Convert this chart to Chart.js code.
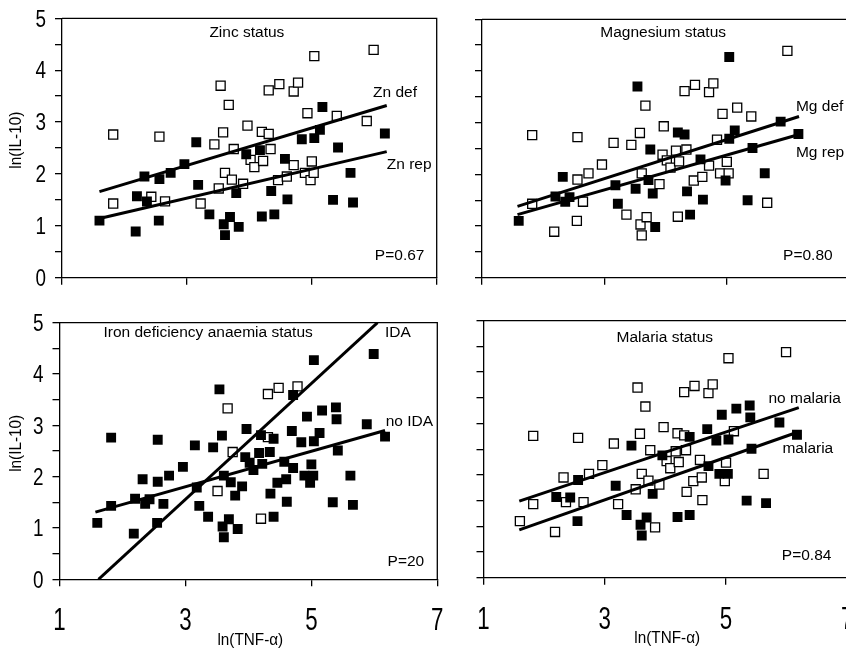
<!DOCTYPE html>
<html>
<head>
<meta charset="utf-8">
<script src="https://cdn.jsdelivr.net/npm/chart.js@4.4.4/dist/chart.umd.min.js"></script>
<style>
  html, body { margin: 0; padding: 0; background: #fff; width: 846px; height: 651px; overflow: hidden; }
  canvas { position: absolute; }
</style>
</head>
<body>
<canvas id="p-zinc"></canvas>
<canvas id="p-mg"></canvas>
<canvas id="p-ida"></canvas>
<canvas id="p-mal"></canvas>
<script>
// ─── Data (same children in every panel) ─────────────────────────────────────

const LN_TNF = [
  1.60, 1.82, 1.82, 2.18, 2.20, 2.32, 2.36, 2.43, 2.55, 2.56,
  2.56, 2.65, 2.74, 2.96, 3.15, 3.18, 3.22, 3.36, 3.44, 3.51,
  3.54, 3.58, 3.59, 3.61, 3.61, 3.67, 3.69, 3.72, 3.75, 3.79,
  3.83, 3.90, 3.95, 3.97, 4.02, 4.08, 4.17, 4.20, 4.20, 4.22,
  4.31, 4.31, 4.34, 4.35, 4.40, 4.46, 4.48, 4.57, 4.60, 4.61,
  4.71, 4.71, 4.78, 4.84, 4.89, 4.93, 4.98, 5.00, 5.03, 5.04,
  5.04, 5.13, 5.17, 5.34, 5.40, 5.42, 5.62, 5.66, 5.88, 5.99,
  6.17, 5.39, 4.69, 4.40
];
const LN_IL10 = [
  1.10, 2.76, 1.43, 0.89, 1.57, 1.95, 1.47, 1.56, 1.10, 1.90,
  2.72, 1.47, 2.02, 2.19, 2.61, 1.79, 1.43, 1.22, 2.57, 1.72,
  3.70, 2.80, 1.03, 0.82, 2.02, 3.33, 1.17, 1.89, 2.48, 1.63,
  0.98, 1.81, 2.38, 2.93, 2.27, 2.13, 2.46, 2.81, 1.18, 2.25,
  2.77, 3.61, 2.48, 1.67, 1.22, 1.88, 3.73, 2.29, 1.95, 1.51,
  3.59, 2.17, 3.76, 2.67, 2.02, 3.17, 1.88, 2.24, 2.02, 4.27,
  2.69, 2.85, 3.29, 1.50, 3.12, 2.51, 2.02, 1.45, 3.02, 4.39,
  2.78, 3.35, 2.89, 2.74
];

// marker per child: 1 = filled square, 0 = open square, null = not plotted
const ZINC_GROUP = [
  1,0,0,1,1,1,1,0,1,1, 0,0,1,1,1,1,0,1,0,0, 0,0,1,1,0,0,1,0,0,1,
  1,0,1,0,0,0,1,0,1,0, 0,0,0,1,1,0,0,1,0,1, 0,0,0,1,0,0,0,0,0,0,
  1,1,1,1,0,1,1,1,0,0, 1,null,null,null
];
const MG_GROUP = [
  1,0,0,0,1,1,1,1,0,0, 0,0,0,0,0,1,1,0,0,1, 1,0,0,0,0,0,0,1,1,1,
  1,0,0,0,0,0,0,1,0,0, 1,0,0,1,1,0,0,1,0,1, 0,0,0,0,0,0,1,0,0,1,
  1,1,0,1,0,1,1,0,1,0, 1,null,null,null
];
const IDA_GROUP = [
  1,1,1,1,1,1,1,1,1,1, 1,1,1,1,1,1,1,1,1,0, 1,1,1,1,1,0,1,1,0,1,
  1,1,1,1,1,1,1,1,0,1, 0,0,1,1,1,1,0,1,1,1, 1,1,0,1,1,1,1,1,1,1,
  1,1,1,1,1,1,1,1,1,1, 1,1,1,1
];
const MALARIA_GROUP = [
  0,0,0,0,1,0,0,1,1,1, 0,0,0,0,0,1,0,1,1,0, 0,0,1,1,0,0,1,0,0,1,
  0,0,1,0,0,0,0,0,1,0, 0,0,0,0,1,0,0,0,0,0, 0,1,0,1,1,1,0,0,1,0,
  1,0,1,1,1,1,0,1,1,0, 1,1,1,1
];

// fitted regression lines: end points
const ZN_FIT_X = [1.60, 6.20];
const ZN_DEF_FIT = [1.66, 3.32];
const ZN_REP_FIT = [1.14, 2.43];
const MG_FIT_X = [1.58, 6.18];
const MG_DEF_FIT = [1.38, 3.12];
const MG_REP_FIT = [1.22, 2.77];
const IDA_FIT_X = [1.62, 6.05];
const IDA_FIT = [0.00, 5.00];
const NO_IDA_FIT_X = [1.57, 6.17];
const NO_IDA_FIT = [1.31, 2.90];
const MAL_FIT_X = [1.59, 6.20];
const NO_MAL_FIT = [1.49, 3.31];
const MAL_FIT = [0.93, 2.84];

const X_TICKS = [1, 3, 5, 7];
const Y_TICKS = [0, 1, 2, 3, 4, 5];

// ─── Helpers ────────────────────────────────────────────────────────────────

const FONT = '"Liberation Sans", Arial, sans-serif';

function markers(group, flag) {
  const pts = [];
  LN_TNF.forEach((x, i) => { if (group[i] === flag) pts.push({ x, y: LN_IL10[i] }); });
  return pts;
}

function fitLine(xs, ys) {
  return {
    type: 'line',
    data: xs.map((x, i) => ({ x, y: ys[i] })),
    borderColor: '#000',
    borderWidth: 3,
    pointRadius: 0,
    showLine: true,
    fill: false,
  };
}

// narrow lettering: squeeze text horizontally around its anchor
function narrowText(ctx, text, px, py, sx) {
  ctx.save();
  ctx.translate(px, py);
  ctx.scale(sx, 1);
  ctx.fillText(text, 0, 0);
  ctx.restore();
}

// frame, tick labels, annotations and axis titles
const panelText = {
  id: 'panelText',
  afterDraw(chart, args, opts) {
    const { ctx, chartArea: a, scales: { x, y } } = chart;
    ctx.save();
    ctx.strokeStyle = '#000';
    ctx.lineWidth = 1.3;
    ctx.beginPath();
    ctx.moveTo(a.left, a.top);
    ctx.lineTo(a.right, a.top);
    ctx.lineTo(a.right, a.bottom);
    ctx.stroke();

    ctx.fillStyle = '#000';
    if (opts.yTicks) {
      ctx.font = `23px ${FONT}`;
      ctx.textAlign = 'right';
      ctx.textBaseline = 'alphabetic';
      y.ticks.forEach(t => {
        if (!Y_TICKS.includes(t.value)) return;
        narrowText(ctx, String(t.value), a.left - 16, y.getPixelForValue(t.value) + 8.3, 0.82);
      });
    }
    if (opts.xTicks) {
      ctx.font = `31px ${FONT}`;
      ctx.textAlign = 'center';
      ctx.textBaseline = 'alphabetic';
      x.ticks.forEach(t => {
        narrowText(ctx, String(t.value), x.getPixelForValue(t.value), a.bottom + 51, 0.72);
      });
    }

    ctx.textBaseline = 'middle';
    (opts.items || []).forEach(t => {
      ctx.font = `15.5px ${FONT}`;
      ctx.textAlign = t.align || 'left';
      ctx.fillText(t.text, x.getPixelForValue(t.x), y.getPixelForValue(t.y));
    });
    if (opts.yTicks) {
      ctx.save();
      ctx.translate(16.5, y.getPixelForValue(2.65));
      ctx.rotate(-Math.PI / 2);
      ctx.textAlign = 'center';
      ctx.font = `17px ${FONT}`;
      narrowText(ctx, 'ln(IL-10)', 0, 0, 0.9);
      ctx.restore();
    }
    if (opts.xTicks) {
      ctx.textAlign = 'center';
      ctx.font = `17px ${FONT}`;
      narrowText(ctx, 'ln(TNF-\u03b1)', x.getPixelForValue(4.03), a.bottom + 61, 0.9);
    }
    ctx.restore();
  }
};

function makePanel(p) {
  const el = document.getElementById(p.id);
  el.width = p.canvas.w;
  el.height = p.canvas.h;
  el.style.left = p.canvas.x + 'px';
  el.style.top = p.canvas.y + 'px';

  const padTop = p.box.t - p.canvas.y;
  const padRight = p.canvas.x + p.canvas.w - p.box.r;
  const yWidth = p.box.l - p.canvas.x;
  const xHeight = p.canvas.y + p.canvas.h - p.box.b;

  return new Chart(el, {
    type: 'scatter',
    data: {
      datasets: [
        ...p.fits.map(f => fitLine(f[0], f[1])),
        {
          data: markers(p.group, 1),
          pointStyle: 'rect',
          pointRadius: 7,
          backgroundColor: '#000',
          borderColor: '#000',
          borderWidth: 0,
        },
        {
          data: markers(p.group, 0),
          pointStyle: 'rect',
          pointRadius: 6.4,
          backgroundColor: '#fff',
          borderColor: '#000',
          borderWidth: 1.3,
        }
      ]
    },
    options: {
      responsive: false,
      devicePixelRatio: 1,
      animation: false,
      events: [],
      layout: { padding: { top: padTop, right: padRight, left: 0, bottom: 0 } },
      plugins: {
        legend: { display: false },
        tooltip: { enabled: false },
        panelText: { items: p.texts, yTicks: p.yLabels, xTicks: p.xLabels }
      },
      scales: {
        x: {
          type: 'linear',
          min: 1, max: 7,
          afterBuildTicks: s => { s.ticks = X_TICKS.map(v => ({ value: v })); },
          afterFit: s => { s.height = xHeight; },
          grid: { drawOnChartArea: false, drawTicks: true, tickLength: 7, color: '#000', lineWidth: 1.3 },
          border: { display: true, color: '#000', width: 1.3 },
          ticks: { display: false }
        },
        y: {
          type: 'linear',
          min: 0, max: 5,
          ticks: { display: false, stepSize: 0.5 },
          afterFit: s => { s.width = yWidth; },
          grid: { drawOnChartArea: false, drawTicks: true, tickLength: 7, color: '#000', lineWidth: 1.3 },
          border: { display: true, color: '#000', width: 1.3 }
        }
      }
    },
    plugins: [panelText]
  });
}

// ─── Panels ─────────────────────────────────────────────────────────────────

const PANELS = [
  {
    id: 'p-zinc', group: ZINC_GROUP,
    fits: [[ZN_FIT_X, ZN_DEF_FIT], [ZN_FIT_X, ZN_REP_FIT]],
    canvas: { x: 0, y: 0, w: 445, h: 300 },
    box: { l: 62, t: 18.3, r: 436.7, b: 277.7 },
    yLabels: true, xLabels: false,
    texts: [
      { text: 'Zinc status', x: 3.96, y: 4.72, align: 'center' },
      { text: 'Zn def', x: 5.98, y: 3.56 },
      { text: 'Zn rep', x: 6.20, y: 2.17 },
      { text: 'P=0.67', x: 6.01, y: 0.42 }
    ]
  },
  {
    id: 'p-mg', group: MG_GROUP,
    fits: [[MG_FIT_X, MG_DEF_FIT], [MG_FIT_X, MG_REP_FIT]],
    canvas: { x: 445, y: 0, w: 415, h: 300 },
    box: { l: 482, t: 19.3, r: 849.2, b: 277.7 },
    yLabels: false, xLabels: false,
    texts: [
      { text: 'Magnesium status', x: 3.96, y: 4.74, align: 'center' },
      { text: 'Mg def', x: 6.13, y: 3.31 },
      { text: 'Mg rep', x: 6.13, y: 2.41 },
      { text: 'P=0.80', x: 5.92, y: 0.42 }
    ]
  },
  {
    id: 'p-ida', group: IDA_GROUP,
    fits: [[IDA_FIT_X, IDA_FIT], [NO_IDA_FIT_X, NO_IDA_FIT]],
    canvas: { x: 0, y: 300, w: 445, h: 351 },
    box: { l: 59.5, t: 322.7, r: 438.3, b: 579.3 },
    yLabels: true, xLabels: true,
    texts: [
      { text: 'Iron deficiency anaemia status', x: 3.36, y: 4.80, align: 'center' },
      { text: 'IDA', x: 6.17, y: 4.80 },
      { text: 'no IDA', x: 6.18, y: 3.07 },
      { text: 'P=20', x: 6.21, y: 0.34 }
    ]
  },
  {
    id: 'p-mal', group: MALARIA_GROUP,
    fits: [[MAL_FIT_X, NO_MAL_FIT], [MAL_FIT_X, MAL_FIT]],
    canvas: { x: 445, y: 300, w: 415, h: 351 },
    box: { l: 483.5, t: 320.7, r: 847.3, b: 577.7 },
    yLabels: false, xLabels: true,
    texts: [
      { text: 'Malaria status', x: 3.99, y: 4.66, align: 'center' },
      { text: 'no malaria', x: 5.70, y: 3.49 },
      { text: 'malaria', x: 5.93, y: 2.50 },
      { text: 'P=0.84', x: 5.92, y: 0.42 }
    ]
  }
];

PANELS.forEach(makePanel);
</script>
</body>
</html>
